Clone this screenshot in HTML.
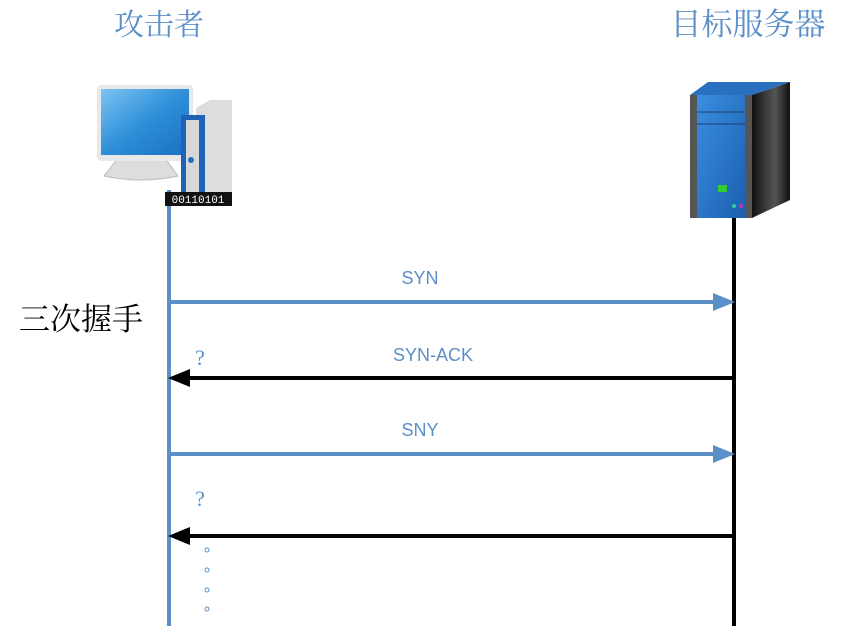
<!DOCTYPE html>
<html><head><meta charset="utf-8"><style>
html,body{margin:0;padding:0;background:#fff;}
svg{display:block;}
</style></head><body>
<svg width="843" height="627" viewBox="0 0 843 627" xmlns="http://www.w3.org/2000/svg">
<defs>
<linearGradient id="scr" x1="0" y1="0" x2="1" y2="1"><stop offset="0" stop-color="#7cc4f2"/><stop offset="0.5" stop-color="#2e8fd8"/><stop offset="1" stop-color="#1a6fc0"/></linearGradient>
<linearGradient id="srv" x1="0" y1="0" x2="1" y2="1"><stop offset="0" stop-color="#3a8ee0"/><stop offset="1" stop-color="#1c5fb0"/></linearGradient>
<linearGradient id="side" x1="0" y1="0" x2="1" y2="0"><stop offset="0" stop-color="#111"/><stop offset="0.6" stop-color="#555"/><stop offset="1" stop-color="#111"/></linearGradient>
</defs>
<g font-family="Liberation Serif, Noto Serif CJK SC, serif">
<text x="159" y="35" font-size="30" fill="#5b8fc7" text-anchor="middle">攻击者</text>
<text x="748" y="35" font-size="31" fill="#5b8fc7" text-anchor="middle">目标服务器</text>
<text x="19" y="330" font-size="31" fill="#000">三次握手</text>
</g>
<g font-family="Liberation Sans, sans-serif">
<text x="420" y="284" font-size="18" fill="#5b8fc7" text-anchor="middle">SYN</text>
<text x="433" y="361" font-size="18" fill="#5b8fc7" text-anchor="middle">SYN-ACK</text>
<text x="420" y="436" font-size="18" fill="#5b8fc7" text-anchor="middle">SNY</text>
<text x="200" y="365" font-size="22" fill="#5b8fc7" text-anchor="middle" font-family="Liberation Serif, serif">?</text>
<text x="200" y="506" font-size="22" fill="#5b8fc7" text-anchor="middle" font-family="Liberation Serif, serif">?</text>
</g>
<g fill="none" stroke="#5b8fc7" stroke-width="1"><circle cx="207" cy="550" r="2"/><circle cx="207" cy="570" r="2"/><circle cx="207" cy="590" r="2"/><circle cx="207" cy="609" r="2"/></g>
<line x1="169" y1="190" x2="169" y2="626" stroke="#5b8fc7" stroke-width="4"/>
<line x1="734" y1="215" x2="734" y2="626" stroke="#000" stroke-width="4"/>
<line x1="169" y1="302" x2="716" y2="302" stroke="#5b8fc7" stroke-width="4"/>
<polygon points="735,302 713,293 713,311" fill="#5b8fc7"/>
<line x1="188" y1="378" x2="734" y2="378" stroke="#000" stroke-width="4"/>
<polygon points="168,378 190,369 190,387" fill="#000"/>
<line x1="169" y1="454" x2="716" y2="454" stroke="#5b8fc7" stroke-width="4"/>
<polygon points="735,454 713,445 713,463" fill="#5b8fc7"/>
<line x1="188" y1="536" x2="734" y2="536" stroke="#000" stroke-width="4"/>
<polygon points="168,536 190,527 190,545" fill="#000"/>
<path d="M118 158 Q140 150 165 158 L178 176 Q140 184 104 176 Z" fill="#ddd" stroke="#bbb"/>
<rect x="97" y="85" width="96" height="76" rx="4" fill="#e8e8e8"/>
<rect x="101" y="89" width="88" height="66" fill="url(#scr)"/>
<polygon points="196,108 210,100 232,100 232,192 196,192" fill="#ddd"/>
<rect x="181" y="115" width="24" height="80" fill="#1f63b8"/>
<rect x="186" y="120" width="13" height="72" fill="#d8d8d8"/>
<circle cx="191" cy="160" r="3" fill="#2a6fc0"/>
<rect x="165" y="192" width="67" height="14" fill="#111"/>
<text x="198" y="203" font-size="11" fill="#fff" text-anchor="middle" font-family="Liberation Mono, monospace">00110101</text>
<polygon points="690,95 708,82 790,82 752,95" fill="#2a6fc0"/>
<polygon points="752,95 790,82 790,200 752,218" fill="url(#side)"/>
<rect x="690" y="95" width="62" height="123" fill="#555"/>
<rect x="697" y="95" width="48" height="123" fill="url(#srv)"/>
<line x1="697" y1="112" x2="745" y2="112" stroke="#1a3f70"/>
<line x1="697" y1="124" x2="745" y2="124" stroke="#1a3f70"/>
<rect x="718" y="185" width="9" height="7" fill="#3c3"/>
<circle cx="734" cy="206" r="2" fill="#3c9"/><circle cx="741" cy="206" r="2" fill="#c3a"/>
</svg>
</body></html>
